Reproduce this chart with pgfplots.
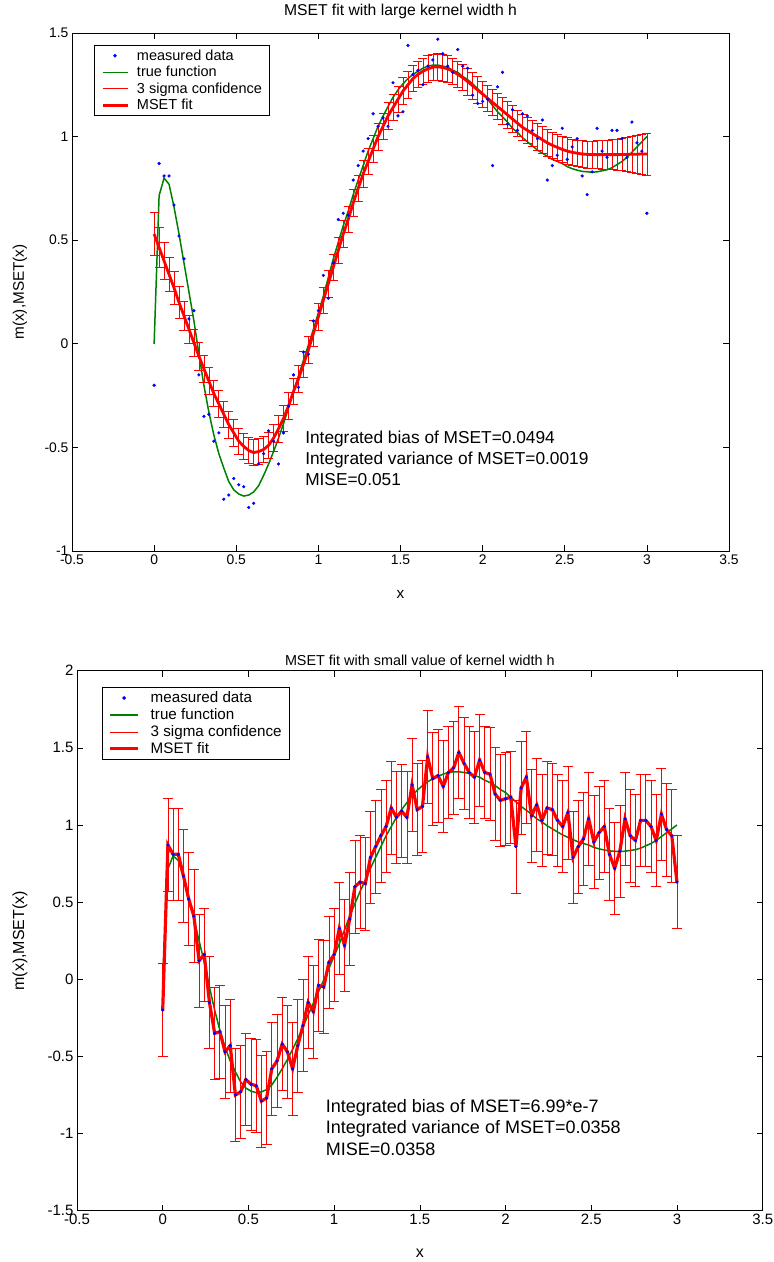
\documentclass[border=0pt]{standalone}
\usepackage{pgfplots}
\usepackage{pgfplotstable}
\pgfplotsset{compat=1.18}
\usepackage{fontspec}
\setmainfont{Liberation Sans}
\definecolor{mblue}{RGB}{0,0,255}
\definecolor{mgreen}{RGB}{0,128,0}
\definecolor{mred}{RGB}{255,0,0}

\pgfplotstableread{
x d t f e
0.0000 -0.20 0.000 0.530 0.105
0.0303 0.87 0.715 0.465 0.097
0.0606 0.81 0.800 0.400 0.090
0.0909 0.81 0.770 0.335 0.084
0.1212 0.67 0.660 0.270 0.079
0.1515 0.52 0.530 0.200 0.075
0.1818 0.41 0.390 0.135 0.072
0.2121 0.12 0.250 0.070 0.069
0.2424 0.16 0.110 0.005 0.067
0.2727 -0.15 -0.050 -0.060 0.066
0.3030 -0.35 -0.200 -0.120 0.064
0.3333 -0.34 -0.330 -0.180 0.064
0.3636 -0.47 -0.440 -0.240 0.064
0.3939 -0.43 -0.530 -0.290 0.064
0.4242 -0.75 -0.600 -0.340 0.064
0.4545 -0.73 -0.665 -0.390 0.064
0.4848 -0.65 -0.705 -0.430 0.064
0.5152 -0.68 -0.725 -0.470 0.064
0.5455 -0.69 -0.735 -0.495 0.064
0.5758 -0.79 -0.730 -0.515 0.064
0.6061 -0.77 -0.715 -0.525 0.064
0.6364 -0.58 -0.685 -0.520 0.064
0.6667 -0.53 -0.635 -0.510 0.064
0.6970 -0.42 -0.580 -0.490 0.064
0.7273 -0.47 -0.520 -0.455 0.064
0.7576 -0.58 -0.455 -0.410 0.064
0.7879 -0.43 -0.385 -0.360 0.064
0.8182 -0.30 -0.310 -0.300 0.064
0.8485 -0.15 -0.230 -0.230 0.064
0.8788 -0.21 -0.155 -0.170 0.064
0.9091 -0.04 -0.080 -0.100 0.064
0.9394 -0.05 -0.005 -0.030 0.064
0.9697 0.11 0.070 0.050 0.064
1.0000 0.16 0.150 0.130 0.064
1.0303 0.33 0.230 0.210 0.064
1.0606 0.22 0.320 0.290 0.064
1.0909 0.39 0.410 0.370 0.064
1.1212 0.60 0.490 0.450 0.064
1.1515 0.63 0.570 0.530 0.064
1.1818 0.62 0.640 0.600 0.064
1.2121 0.79 0.720 0.680 0.064
1.2424 0.86 0.790 0.750 0.064
1.2727 0.93 0.860 0.820 0.064
1.3030 0.99 0.930 0.880 0.064
1.3333 1.11 0.990 0.940 0.064
1.3636 1.05 1.050 1.000 0.064
1.3939 1.09 1.100 1.050 0.064
1.4242 1.05 1.145 1.100 0.064
1.4545 1.26 1.190 1.140 0.064
1.4848 1.10 1.225 1.180 0.064
1.5152 1.12 1.255 1.220 0.064
1.5455 1.44 1.280 1.250 0.064
1.5758 1.30 1.300 1.280 0.064
1.6061 1.32 1.315 1.300 0.064
1.6364 1.25 1.330 1.315 0.064
1.6667 1.34 1.340 1.327 0.064
1.6970 1.37 1.345 1.335 0.064
1.7273 1.47 1.345 1.337 0.064
1.7576 1.40 1.340 1.333 0.064
1.7879 1.34 1.335 1.327 0.064
1.8182 1.31 1.320 1.316 0.064
1.8485 1.42 1.310 1.300 0.064
1.8788 1.34 1.290 1.285 0.064
1.9091 1.33 1.275 1.265 0.064
1.9394 1.20 1.255 1.245 0.064
1.9697 1.16 1.230 1.225 0.064
2.0000 1.17 1.210 1.205 0.064
2.0303 1.18 1.180 1.185 0.064
2.0606 0.86 1.150 1.165 0.064
2.0909 1.24 1.120 1.145 0.064
2.1212 1.31 1.095 1.125 0.064
2.1515 1.06 1.070 1.105 0.064
2.1818 1.13 1.040 1.085 0.064
2.2121 1.03 1.020 1.065 0.064
2.2424 1.11 0.995 1.045 0.064
2.2727 1.10 0.975 1.030 0.064
2.3030 1.03 0.955 1.015 0.064
2.3333 0.99 0.935 1.000 0.064
2.3636 1.08 0.920 0.985 0.064
2.3939 0.79 0.905 0.970 0.064
2.4242 0.86 0.890 0.958 0.064
2.4545 0.91 0.880 0.948 0.064
2.4848 1.04 0.870 0.938 0.064
2.5152 0.89 0.855 0.930 0.064
2.5455 0.95 0.845 0.924 0.064
2.5758 0.99 0.838 0.920 0.064
2.6061 0.81 0.832 0.916 0.064
2.6364 0.72 0.830 0.914 0.065
2.6667 0.83 0.828 0.913 0.066
2.6970 1.04 0.830 0.913 0.067
2.7273 0.93 0.835 0.913 0.069
2.7576 0.90 0.840 0.913 0.071
2.7879 1.03 0.850 0.913 0.073
2.8182 1.03 0.865 0.913 0.076
2.8485 0.99 0.880 0.914 0.079
2.8788 0.90 0.900 0.914 0.082
2.9091 1.07 0.925 0.915 0.086
2.9394 0.97 0.950 0.915 0.091
2.9697 0.93 0.975 0.916 0.096
3.0000 0.63 1.000 0.916 0.102
}\data

\pgfplotsset{
  mset/.style={
    scale only axis, anchor=south west,
    xmin=-0.5, xmax=3.5,
    xtick={-0.5,0,0.5,1,1.5,2,2.5,3,3.5},
    xticklabels={-0.5,0,0.5,1,1.5,2,2.5,3,3.5},
    tick align=inside, tick pos=both,
    major tick length=6pt,
    axis line style={line width=0.9pt},
    every tick/.style={black, line width=0.6pt},
    legend cell align=left,
    xlabel={x}, ylabel={m(x),MSET(x)},
  },
}

\begin{document}
\begin{tikzpicture}
\useasboundingbox (0pt,0pt) rectangle (774pt,1262pt);

% ---------- top axis ----------
\begin{axis}[mset, at={(72pt,711pt)}, width=657pt, height=518pt,
  ymin=-1, ymax=1.5,
  ytick={-1,-0.5,0,0.5,1,1.5}, yticklabels={-1,-0.5,0,0.5,1,1.5},
  tick label style={font=\fontsize{13.9}{16}\selectfont},
  xlabel style={at={(axis description cs:0.5,-0.083)}, anchor=center, font=\fontsize{15.3}{17}\selectfont},
  ylabel style={at={(axis description cs:-0.0791,0.5)}, anchor=center, font=\fontsize{15.3}{17}\selectfont},
  title={MSET fit with large kernel width h},
  title style={at={(axis description cs:0.5,1.041)}, anchor=center, yshift=-6pt, font=\fontsize{15.7}{18}\selectfont},
  legend image code/.code={\path (-1pt,0pt) (31pt,0pt); \draw[mark repeat=2,mark phase=2,#1] plot coordinates {(0pt,0pt) (12.5pt,0pt) (25pt,0pt)};},
  legend style={at={(axis description cs:0.034,0.977)}, anchor=north west, draw=black, line width=0.7pt,
    font=\fontsize{14.5}{16}\selectfont, inner xsep=5.5pt, inner ysep=2.5pt, row sep=0.5pt},
]
\addplot[only marks, mark=*, mark size=1.4pt, color=mblue] table[x=x,y=d]{\data};
\addlegendentry{measured data}
\addplot[mgreen, line width=1.5pt] table[x=x,y=t]{\data};
\addlegendentry{true function}
\addplot[draw=mred, color=mred, line width=0.6pt,
  error bars/.cd, y dir=both, y explicit,
  error bar style={line width=0.7pt, draw=mred, color=mred},
  error mark options={rotate=90, mark size=4.5pt, line width=0.7pt, draw=mred, color=mred}]
  table[x=x,y=f,y error=e]{\data};
\addlegendentry{3 sigma confidence}
\addplot[color=mred, line width=2.8pt] table[x=x,y=f]{\data};
\addlegendentry{MSET fit}
\node[anchor=west, font=\fontsize{17.3}{19}\selectfont, inner sep=0pt] at (axis cs:0.919,-0.460) {Integrated bias of MSET=0.0494};
\node[anchor=west, font=\fontsize{17.3}{19}\selectfont, inner sep=0pt] at (axis cs:0.919,-0.560) {Integrated variance of MSET=0.0019};
\node[anchor=west, font=\fontsize{17.3}{19}\selectfont, inner sep=0pt] at (axis cs:0.919,-0.657) {MISE=0.051};
\end{axis}

% ---------- bottom axis ----------
\begin{axis}[mset, at={(77pt,51.3pt)}, width=685.7pt, height=540pt,
  ymin=-1.5, ymax=2,
  ytick={-1.5,-1,-0.5,0,0.5,1,1.5,2}, yticklabels={-1.5,-1,-0.5,0,0.5,1,1.5,2},
  tick label style={font=\fontsize{15}{17}\selectfont},
  xlabel style={at={(axis description cs:0.5,-0.078)}, anchor=center, font=\fontsize{16}{18}\selectfont},
  ylabel style={at={(axis description cs:-0.083,0.5)}, anchor=center, font=\fontsize{16}{18}\selectfont},
  title={MSET fit with small value of kernel width h},
  title style={at={(axis description cs:0.5,1.0185)}, anchor=center, yshift=-6pt, font=\fontsize{14.4}{17}\selectfont},
  legend image code/.code={\path (-1pt,0pt) (37pt,0pt); \draw[mark repeat=2,mark phase=2,#1] plot coordinates {(0pt,0pt) (14pt,0pt) (28pt,0pt)};},
  legend style={at={(axis description cs:0.036,0.970)}, anchor=north west, draw=black, line width=0.7pt,
    font=\fontsize{15.2}{17}\selectfont, inner xsep=5.5pt, inner ysep=2.5pt, row sep=0.4pt},
]
\addplot[only marks, mark=*, mark size=1.4pt, color=mblue] table[x=x,y=d]{\data};
\addlegendentry{measured data}
\addplot[mgreen, line width=1.5pt] table[x=x,y=t]{\data};
\addlegendentry{true function}
\addplot[draw=mred, color=mred, line width=0.6pt,
  error bars/.cd, y dir=both, y fixed=0.3,
  error bar style={line width=0.7pt, draw=mred, color=mred},
  error mark options={rotate=90, mark size=5pt, line width=0.7pt, draw=mred, color=mred}]
  table[x=x,y=d]{\data};
\addlegendentry{3 sigma confidence}
\addplot[color=mred, line width=3.2pt] table[x=x,y=d]{\data};
\addlegendentry{MSET fit}
\addplot[only marks, mark=*, mark size=0.8pt, color=mblue, forget plot] table[x=x,y=d]{\data};
\node[anchor=west, font=\fontsize{18}{20}\selectfont, inner sep=0pt] at (axis cs:0.951,-0.834) {Integrated bias of MSET=6.99*e-7};
\node[anchor=west, font=\fontsize{18}{20}\selectfont, inner sep=0pt] at (axis cs:0.951,-0.970) {Integrated variance of MSET=0.0358};
\node[anchor=west, font=\fontsize{18}{20}\selectfont, inner sep=0pt] at (axis cs:0.951,-1.103) {MISE=0.0358};
\end{axis}
\end{tikzpicture}
\end{document}
